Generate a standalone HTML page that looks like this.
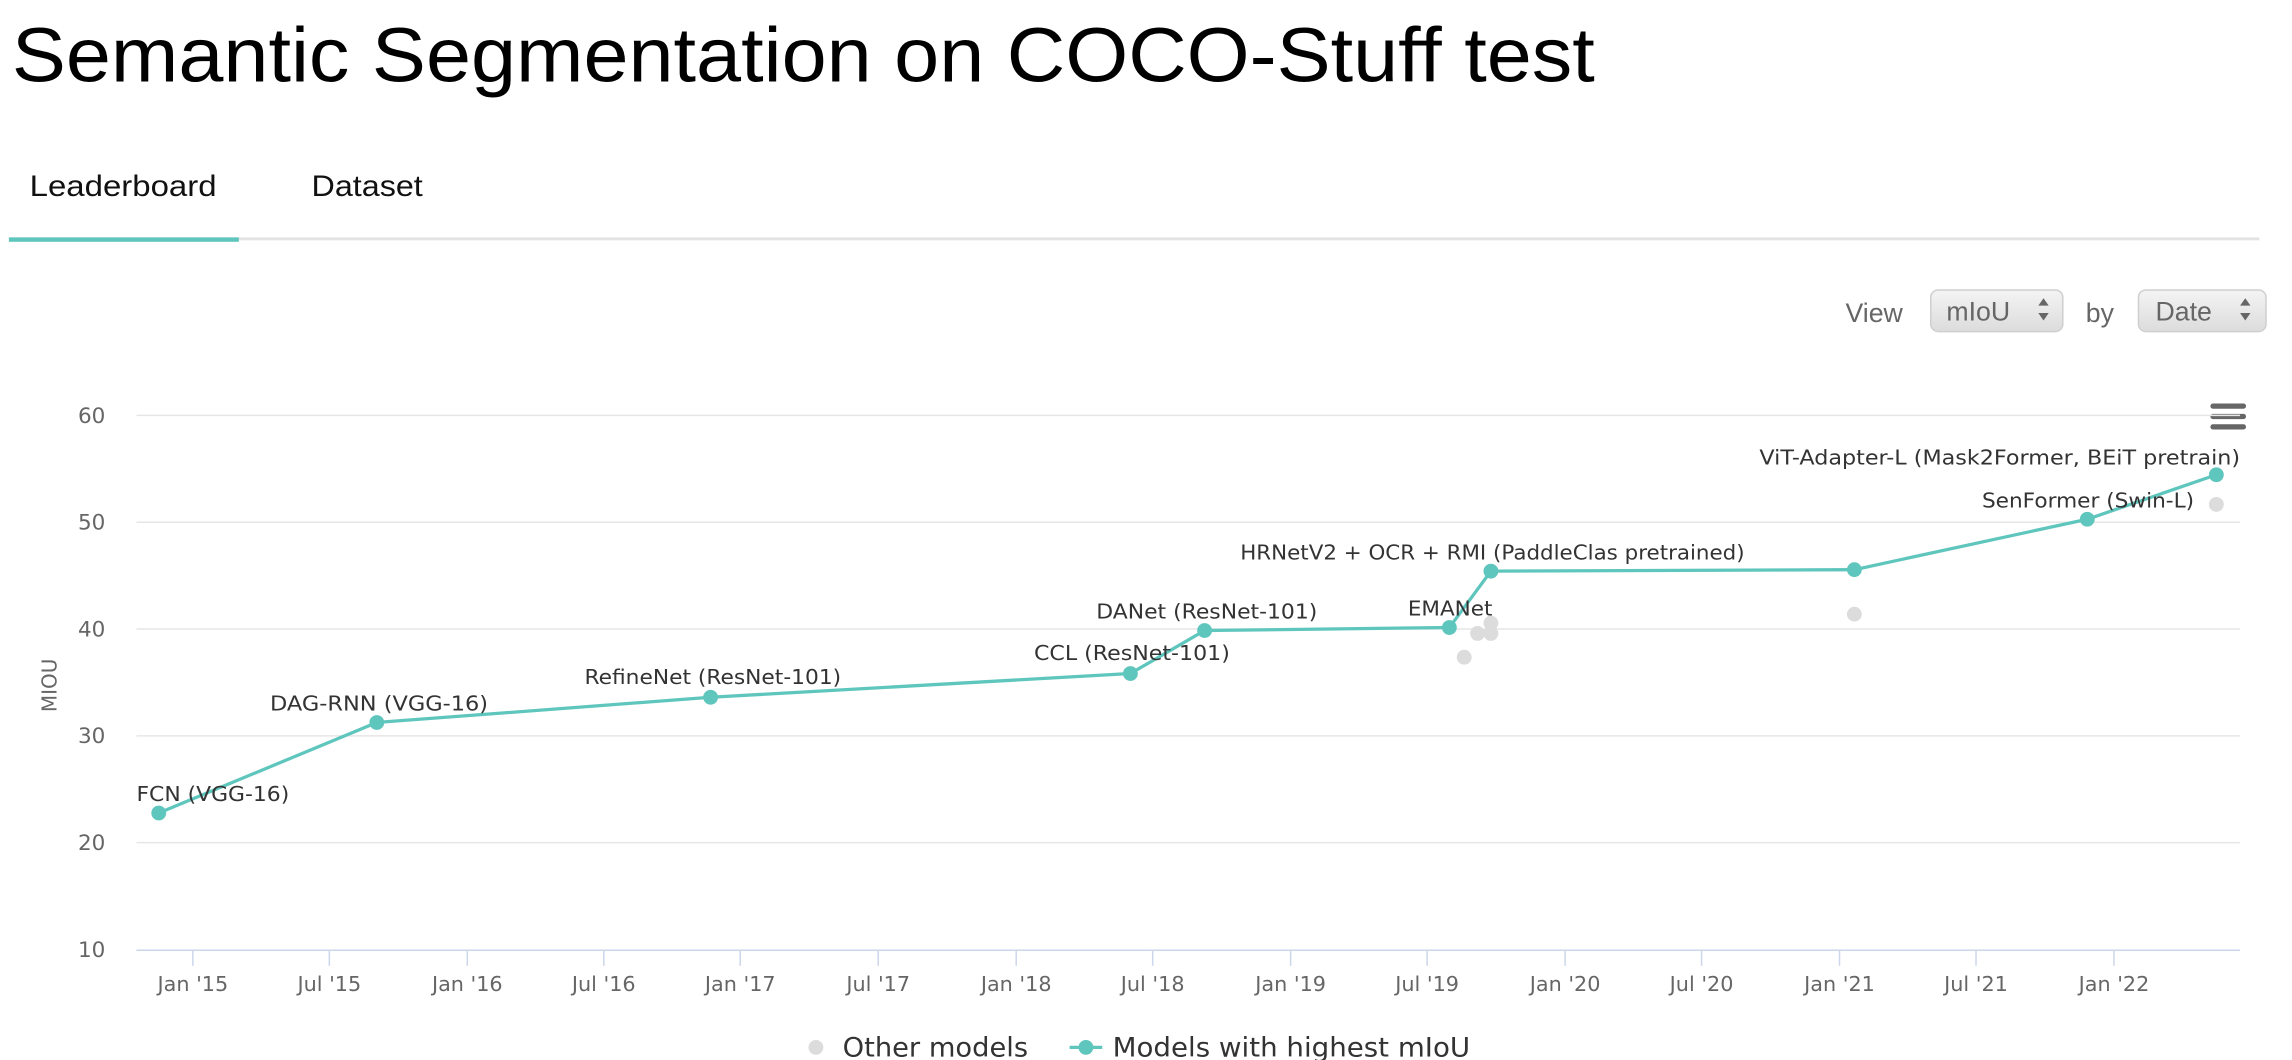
<!DOCTYPE html>
<html><head><meta charset="utf-8">
<style>
html,body{margin:0;padding:0;background:#fff;overflow:hidden}
svg{display:block}
</style></head>
<body>
<svg width="2292" height="1060" viewBox="0 0 1545 714.5" preserveAspectRatio="none" xmlns="http://www.w3.org/2000/svg" font-family="Liberation Sans, sans-serif">
<defs>
<linearGradient id="sg" x1="0" y1="0" x2="0" y2="1"><stop offset="0" stop-color="#f4f4f4"/><stop offset="1" stop-color="#dcdcdc"/></linearGradient>
</defs>
<text x="8" y="55" font-size="52" fill="#000" textLength="1067" lengthAdjust="spacingAndGlyphs">Semantic Segmentation on COCO-Stuff test</text>
<text x="20" y="132" font-size="20" fill="#111" textLength="126" lengthAdjust="spacingAndGlyphs">Leaderboard</text>
<text x="210" y="132" font-size="20" fill="#111" textLength="75" lengthAdjust="spacingAndGlyphs">Dataset</text>
<rect x="6" y="160" width="1517" height="2" fill="#e3e3e3"/>
<rect x="6" y="160" width="155" height="3" fill="#5fc6bd"/>
<!-- view controls -->
<text x="1244" y="217" font-size="18" fill="#666">View</text>
<rect x="1301.5" y="195.5" width="89" height="28" rx="5" fill="url(#sg)" stroke="#cfcfcf"/>
<text x="1312" y="216" font-size="18" fill="#666">mIoU</text>
<path d="M1374 206 l3.5 -5 l3.5 5z M1374 211 l3.5 5 l3.5 -5z" fill="#666"/>
<text x="1406" y="217" font-size="18" fill="#666">by</text>
<rect x="1441.5" y="195.5" width="86" height="28" rx="5" fill="url(#sg)" stroke="#cfcfcf"/>
<text x="1453" y="216" font-size="18" fill="#666">Date</text>
<path d="M1510 206 l3.5 -5 l3.5 5z M1510 211 l3.5 5 l3.5 -5z" fill="#666"/>
<!-- hamburger -->
<g fill="#666"><rect x="1490" y="272" width="24" height="3.5" rx="1.7"/><rect x="1490" y="279" width="24" height="3.5" rx="1.7"/><rect x="1490" y="286" width="24" height="3.5" rx="1.7"/></g>
<!-- grid -->
<g stroke="#e6e6e6" stroke-width="1">
<line x1="92" y1="280" x2="1510" y2="280"/><line x1="92" y1="352" x2="1510" y2="352"/>
<line x1="92" y1="424" x2="1510" y2="424"/><line x1="92" y1="496" x2="1510" y2="496"/>
<line x1="92" y1="568" x2="1510" y2="568"/>
</g>
<line x1="92" y1="640.5" x2="1510" y2="640.5" stroke="#ccd6eb" stroke-width="1"/>
<g font-size="14.5" fill="#666" text-anchor="end" font-family="DejaVu Sans, sans-serif">
<text x="71" y="285">60</text><text x="71" y="357">50</text><text x="71" y="429">40</text>
<text x="71" y="501">30</text><text x="71" y="573">20</text><text x="71" y="645">10</text>
</g>
<text transform="translate(38,462) rotate(-90)" font-size="13.5" fill="#666" text-anchor="middle" font-family="DejaVu Sans, sans-serif">MIOU</text>
<g stroke="#ccd6eb" stroke-width="1">
<line x1="130" y1="641" x2="130" y2="651"/><line x1="222" y1="641" x2="222" y2="651"/><line x1="315" y1="641" x2="315" y2="651"/><line x1="407" y1="641" x2="407" y2="651"/><line x1="499" y1="641" x2="499" y2="651"/><line x1="592" y1="641" x2="592" y2="651"/><line x1="685" y1="641" x2="685" y2="651"/><line x1="777" y1="641" x2="777" y2="651"/><line x1="870" y1="641" x2="870" y2="651"/><line x1="962" y1="641" x2="962" y2="651"/><line x1="1055" y1="641" x2="1055" y2="651"/><line x1="1147" y1="641" x2="1147" y2="651"/><line x1="1240" y1="641" x2="1240" y2="651"/><line x1="1332" y1="641" x2="1332" y2="651"/><line x1="1425" y1="641" x2="1425" y2="651"/>
</g>
<g font-size="14" fill="#666" text-anchor="middle" font-family="DejaVu Sans, sans-serif">
<text x="130" y="668">Jan '15</text><text x="222" y="668">Jul '15</text><text x="315" y="668">Jan '16</text><text x="407" y="668">Jul '16</text><text x="499" y="668">Jan '17</text><text x="592" y="668">Jul '17</text><text x="685" y="668">Jan '18</text><text x="777" y="668">Jul '18</text><text x="870" y="668">Jan '19</text><text x="962" y="668">Jul '19</text><text x="1055" y="668">Jan '20</text><text x="1147" y="668">Jul '20</text><text x="1240" y="668">Jan '21</text><text x="1332" y="668">Jul '21</text><text x="1425" y="668">Jan '22</text>
</g>
<!-- other models -->
<g fill="#dcdcdc">
<circle cx="987" cy="443" r="5"/><circle cx="996" cy="427" r="5"/><circle cx="1005" cy="420" r="5"/><circle cx="1005" cy="427" r="5"/><circle cx="1250" cy="414" r="5"/><circle cx="1494" cy="340" r="5"/>
</g>
<polyline fill="none" stroke="#5fc6bd" stroke-width="2.2" points="107,548 254,487 479,470 762,454 812,425 977,423 1005,385 1250,384 1407,350 1494,320"/>
<g fill="#5fc6bd">
<circle cx="107" cy="548" r="5"/><circle cx="254" cy="487" r="5"/><circle cx="479" cy="470" r="5"/><circle cx="762" cy="454" r="5"/><circle cx="812" cy="425" r="5"/><circle cx="977" cy="423" r="5"/><circle cx="1005" cy="385" r="5"/><circle cx="1250" cy="384" r="5"/><circle cx="1407" cy="350" r="5"/><circle cx="1494" cy="320" r="5"/>
</g>
<g font-size="14" fill="#333" font-family="DejaVu Sans, sans-serif">
<text x="92" y="540" textLength="103" lengthAdjust="spacingAndGlyphs">FCN (VGG-16)</text>
<text x="182" y="479" textLength="147" lengthAdjust="spacingAndGlyphs">DAG-RNN (VGG-16)</text>
<text x="394" y="461" textLength="173" lengthAdjust="spacingAndGlyphs">RefineNet (ResNet-101)</text>
<text x="697" y="445" textLength="132" lengthAdjust="spacingAndGlyphs">CCL (ResNet-101)</text>
<text x="739" y="417" textLength="149" lengthAdjust="spacingAndGlyphs">DANet (ResNet-101)</text>
<text x="949" y="415" textLength="57" lengthAdjust="spacingAndGlyphs">EMANet</text>
<text x="836" y="377" textLength="340" lengthAdjust="spacingAndGlyphs">HRNetV2 + OCR + RMI (PaddleClas pretrained)</text>
<text x="1186" y="313" textLength="324" lengthAdjust="spacingAndGlyphs">ViT-Adapter-L (Mask2Former, BEiT pretrain)</text>
<text x="1336" y="342" textLength="143" lengthAdjust="spacingAndGlyphs">SenFormer (Swin-L)</text>
</g>
<!-- legend -->
<circle cx="550" cy="706" r="5" fill="#dcdcdc"/>
<text x="568" y="712" font-size="18" fill="#333" font-family="DejaVu Sans, sans-serif" textLength="125" lengthAdjust="spacingAndGlyphs">Other models</text>
<line x1="721" y1="706" x2="743" y2="706" stroke="#5fc6bd" stroke-width="2.2"/>
<circle cx="732" cy="706" r="5" fill="#5fc6bd"/>
<text x="750" y="712" font-size="18" fill="#333" font-family="DejaVu Sans, sans-serif" textLength="241" lengthAdjust="spacingAndGlyphs">Models with highest mIoU</text>
</svg>
</body></html>
